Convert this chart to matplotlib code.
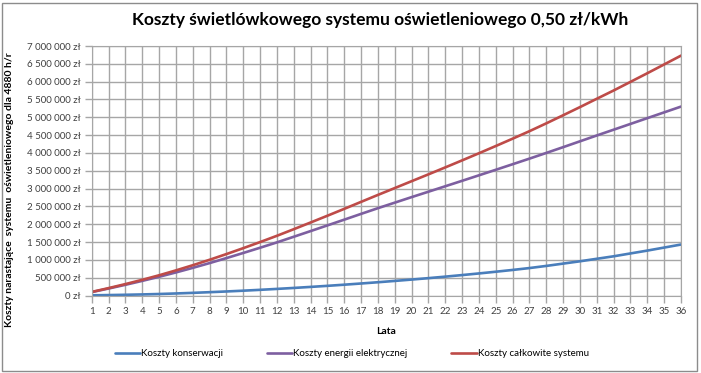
import numpy as np
import matplotlib
matplotlib.use("Agg")
import matplotlib.pyplot as plt
from matplotlib.ticker import FuncFormatter, MultipleLocator
from matplotlib.patches import Rectangle

plt.rcParams['font.family'] = ['Lato', 'DejaVu Sans']

# dane (zł, lata 1..36)
lata = list(range(1, 37))
koszty_konserwacji = [
    5000, 12000, 20000, 30000, 42000, 57000, 74000, 93000, 113000, 135000,
    159000, 185000, 212000, 241000, 271000, 303000, 337000, 372000, 409000, 447000,
    487000, 529000, 573000, 619000, 667000, 717000, 770000, 830000, 895000, 960000,
    1030000, 1100000, 1180000, 1260000, 1345000, 1430000,
]
koszty_energii = [
    95000, 195000, 300000, 410000, 525000, 647000, 775000, 909000, 1049000, 1193000,
    1340000, 1490000, 1648000, 1807000, 1967000, 2128000, 2290000, 2450000, 2605000, 2760000,
    2912000, 3065000, 3218000, 3372000, 3527000, 3683000, 3840000, 4000000, 4162000, 4326000,
    4490000, 4652000, 4814000, 4976000, 5138000, 5300000,
]
koszty_calkowite = [
    100000, 207000, 320000, 440000, 567000, 704000, 849000, 1002000, 1162000, 1328000,
    1499000, 1675000, 1860000, 2048000, 2238000, 2431000, 2627000, 2822000, 3014000, 3207000,
    3399000, 3594000, 3791000, 3991000, 4194000, 4400000, 4610000, 4830000, 5057000, 5286000,
    5520000, 5752000, 5994000, 6236000, 6483000, 6730000,
]
serie = [
    ("Koszty konserwacji", koszty_konserwacji, "#4a7ebb"),
    ("Koszty energii elektrycznej", koszty_energii, "#7d5fa0"),
    ("Koszty całkowite systemu", koszty_calkowite, "#be4b48"),
]

W, H = 701, 373
fig = plt.figure(figsize=(W / 100, H / 100), dpi=100)
fig.patches.append(Rectangle((2 / W, 2 / H), 695 / W, 368 / H, transform=fig.transFigure,
                             fill=False, edgecolor="#8c8c8c", linewidth=1))

ax = fig.add_axes([91.7 / W, 1 - 295.5 / H, (681 - 91.7) / W, (295.5 - 46) / H])
for nazwa, wartosci, kolor in serie:
    ax.plot(lata, wartosci, color=kolor, lw=1.9, label=nazwa, solid_capstyle="round")

ax.set_xlim(1, 36)
ax.set_ylim(0, 7000000)
ax.xaxis.set_major_locator(MultipleLocator(1))
ax.yaxis.set_major_locator(MultipleLocator(500000))
ax.yaxis.set_major_formatter(FuncFormatter(lambda v, p: f"{int(v):,}".replace(",", " ") + " zł"))
ax.grid(True, color="#a6a6a6", lw=1)
ax.set_axisbelow(True)
for s in ax.spines.values():
    s.set_color("#a6a6a6")
ax.tick_params(axis="both", colors="#a6a6a6", length=5, width=1, labelsize=7,
               labelcolor="#404040", pad=3)

ax.set_xlabel("Lata", fontsize=7.5, fontweight="bold", labelpad=8)
fig.text(10 / W, 1 - 190 / H, "Koszty narastające  systemu  oświetleniowego dla 4880 h/r",
         rotation=90, ha="center", va="center", fontsize=7.5, fontweight="bold")
fig.text(380 / W, 1 - 20 / H, "Koszty świetlówkowego systemu oświetleniowego 0,50 zł/kWh",
         ha="center", va="center", fontsize=12.5, fontweight="bold")

fig.legend(loc="center", bbox_to_anchor=(352 / W, 1 - 354 / H), ncol=3, frameon=False,
           fontsize=7, handlelength=2.6, handletextpad=0.1, columnspacing=4.5)

fig.savefig("out.png", dpi=100)
